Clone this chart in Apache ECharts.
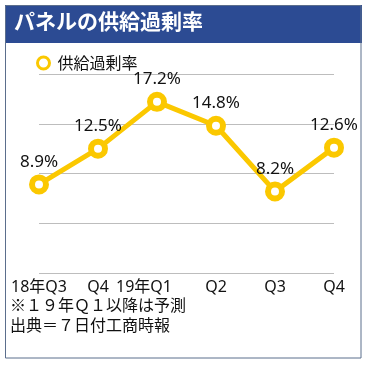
<!DOCTYPE html>
<html><head><meta charset="utf-8">
<script src="https://cdn.jsdelivr.net/npm/echarts@6/dist/echarts.min.js"></script>
<style>html,body{margin:0;padding:0;background:#fff}#c{width:366px;height:366px}</style>
</head><body><div id="c"></div>
<script>
const categories = ['18年Q3', 'Q4', '19年Q1', 'Q2', 'Q3', 'Q4'];
const values = [8.9, 12.5, 17.2, 14.8, 8.2, 12.6];
const seriesName = '供給過剰率';
const titleText = 'パネルの供給過剰率';
const notes = ['※１９年Ｑ１以降は予測', '出典＝７日付工商時報'];
const FONT = '"Noto Sans CJK JP", "Noto Sans", sans-serif';
const LFONT = '"Noto Sans", "Noto Sans CJK JP", sans-serif';
const YELLOW = '#fbc800';

const chart = echarts.init(document.getElementById('c'));
chart.setOption({
  animation: false,
  textStyle: { fontFamily: FONT },
  grid: { left: 39, right: 32, top: 74, bottom: 93 },
  legend: {
    data: [{ name: seriesName, icon: 'circle' }],
    left: 31, top: 50,
    itemWidth: 12, itemHeight: 12, itemGap: 10,
    itemStyle: { color: '#fff', borderColor: YELLOW, borderWidth: 3 },
    textStyle: { fontSize: 16, color: '#111', fontFamily: FONT, padding: [0, 0, 0, 3] }
  },
  xAxis: {
    type: 'category', data: categories, boundaryGap: false,
    axisLine: { show: false }, axisTick: { show: false },
    axisLabel: {
      interval: 0, hideOverlap: false,
      fontSize: 16, color: '#111', margin: 6, fontFamily: LFONT,
      formatter: (v, i) => i === 2 ? '{a|' + v + '}' : v,
      rich: { a: { fontSize: 16, color: '#111', fontFamily: LFONT, padding: [0, 26, 0, 0] } }
    }
  },
  yAxis: {
    type: 'value', min: 0, max: 20, interval: 5,
    axisLine: { show: false }, axisTick: { show: false }, axisLabel: { show: false },
    splitLine: { lineStyle: { color: '#bdbdbd', width: 1 } }
  },
  series: [{
    name: seriesName, type: 'line', data: values,
    symbol: 'circle', symbolSize: 14,
    lineStyle: { color: YELLOW, width: 5 },
    itemStyle: { color: '#fff', borderColor: YELLOW, borderWidth: 6 },
    label: { show: true, position: 'top', distance: 4, fontSize: 17, color: '#111', fontFamily: LFONT, formatter: p => p.value + '%' }
  }],
  graphic: [
    { type: 'rect', shape: { x: 5, y: 5, width: 357, height: 38 }, style: { fill: '#2c4b93' }, z: 10 },
    { type: 'rect', shape: { x: 5.5, y: 5.5, width: 355.5, height: 352.5 }, style: { fill: 'none', stroke: '#5b6e8c', lineWidth: 1 }, z: 11 },
    { type: 'text', left: 14, top: 11, style: { text: titleText, fill: '#fff', font: 'bold 21px ' + FONT }, z: 12 },
    { type: 'text', left: 10, top: 297, style: { text: notes[0], fill: '#111', font: '16px ' + FONT }, z: 12 },
    { type: 'text', left: 10, top: 317, style: { text: notes[1], fill: '#111', font: '16px ' + FONT }, z: 12 }
  ]
});
</script></body></html>
